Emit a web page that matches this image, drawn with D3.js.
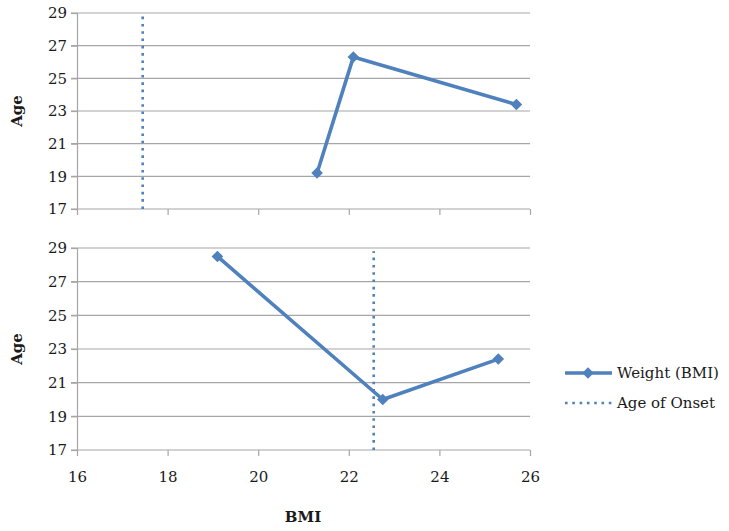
<!DOCTYPE html>
<html>
<head>
<meta charset="utf-8">
<script src="https://cdn.jsdelivr.net/npm/d3@7"></script>
<style>
  body { margin: 0; background: #fff; }
  text { font-family: 'DejaVu Serif', serif; fill: #1a1a1a; }
</style>
</head>
<body>
<div class="chart"></div>
<script>
// data
const xTicks = [16, 18, 20, 22, 24, 26];
const yTicks = [17, 19, 21, 23, 25, 27, 29];

const bmiTop = [21.3, 22.1, 25.7];
const ageTop = [19.2, 26.3, 23.4];
const onsetTop = 17.45;

const bmiBottom = [19.1, 22.75, 25.3];
const ageBottom = [28.5, 20.0, 22.4];
const onsetBottom = 22.55;

const legendLabels = ['Weight (BMI)', 'Age of Onset'];

const w = 729;
const h = 531;
const blue = '#4f81bd';
const grid = '#a6a6a6';
const fontSize = '15px';

const svg = d3
  .select('.chart')
  .append('svg')
  .attr('width', w)
  .attr('height', h);

const xScale = d3.scaleLinear().domain([16, 26]).range([77, 530]);

function panel(yRange, bmi, age, onset, showLabels) {
  const yScale = d3.scaleLinear().domain([17, 29]).range(yRange);
  const g = svg.append('g');

  // gridlines
  g.selectAll('.grid')
    .data(yTicks.slice(1))
    .enter()
    .append('line')
    .attr('x1', xScale(16) - 6)
    .attr('x2', xScale(26))
    .attr('y1', (d) => yScale(d))
    .attr('y2', (d) => yScale(d))
    .attr('stroke', grid)
    .attr('stroke-width', 1.2);

  // y axis
  const yAxis = d3.axisLeft(yScale).tickValues(yTicks).tickSize(6).tickPadding(4);
  const ya = g.append('g').attr('transform', `translate(${xScale(16)},0)`).call(yAxis);
  ya.select('.domain').attr('stroke', grid).attr('stroke-width', 1.2);
  ya.selectAll('.tick line').attr('stroke', grid).attr('stroke-width', 1.2);
  ya.selectAll('text')
    .style('font-family', "'DejaVu Serif', serif")
    .style('font-size', fontSize)
    .attr('fill', '#1a1a1a');

  // x axis
  const xAxis = d3.axisBottom(xScale).tickValues(xTicks).tickSize(6).tickPadding(15);
  const xa = g.append('g').attr('transform', `translate(0,${yScale(17)})`).call(xAxis);
  xa.select('.domain').attr('stroke', grid).attr('stroke-width', 1.2).attr('d', `M${xScale(16) - 6},0H${xScale(26)}`);
  xa.selectAll('.tick line').attr('stroke', grid).attr('stroke-width', 1.2);
  xa.selectAll('text')
    .style('font-family', "'DejaVu Serif', serif")
    .style('font-size', fontSize)
    .attr('fill', '#1a1a1a')
    .style('display', showLabels ? null : 'none');

  // age label
  g.append('text')
    .attr('transform', `translate(22,${(yScale(17) + yScale(29)) / 2}) rotate(-90)`)
    .attr('text-anchor', 'middle')
    .style('font-size', fontSize)
    .style('font-weight', 'bold')
    .text('Age');

  // onset dotted line
  g.append('line')
    .attr('x1', xScale(onset))
    .attr('x2', xScale(onset))
    .attr('y1', yScale(17))
    .attr('y2', yScale(28.8))
    .attr('stroke', blue)
    .attr('stroke-width', 2.6)
    .attr('stroke-dasharray', '2.6,4.7');

  // weight line
  const pts = bmi.map((d, i) => [d, age[i]]);
  const line = d3
    .line()
    .x((d) => xScale(d[0]))
    .y((d) => yScale(d[1]));
  g.append('path')
    .datum(pts)
    .attr('d', line)
    .attr('fill', 'none')
    .attr('stroke', blue)
    .attr('stroke-width', 3.6)
    .attr('stroke-linejoin', 'round');

  g.selectAll('.pt')
    .data(pts)
    .enter()
    .append('path')
    .attr('d', d3.symbol(d3.symbolDiamond2, 85))
    .attr('transform', (d) => `translate(${xScale(d[0])},${yScale(d[1])})`)
    .attr('fill', blue);
}

panel([209, 13], bmiTop, ageTop, onsetTop, false);
panel([450, 248], bmiBottom, ageBottom, onsetBottom, true);

// BMI label
svg
  .append('text')
  .attr('x', 303)
  .attr('y', 522)
  .attr('text-anchor', 'middle')
  .style('font-size', fontSize)
  .style('font-weight', 'bold')
  .text('BMI');

// legend
const legend = svg.append('g');
legend
  .append('line')
  .attr('x1', 565)
  .attr('x2', 612)
  .attr('y1', 373)
  .attr('y2', 373)
  .attr('stroke', blue)
  .attr('stroke-width', 3.6);
legend
  .append('path')
  .attr('d', d3.symbol(d3.symbolDiamond2, 85))
  .attr('transform', 'translate(588,373)')
  .attr('fill', blue);
legend
  .append('line')
  .attr('x1', 565)
  .attr('x2', 612)
  .attr('y1', 403)
  .attr('y2', 403)
  .attr('stroke', blue)
  .attr('stroke-width', 2.6)
  .attr('stroke-dasharray', '2.6,4.7');
legend
  .selectAll('.lbl')
  .data(legendLabels)
  .enter()
  .append('text')
  .attr('x', 617)
  .attr('y', (d, i) => 378 + i * 30)
  .style('font-size', fontSize)
  .text((d) => d);
</script>
</body>
</html>
